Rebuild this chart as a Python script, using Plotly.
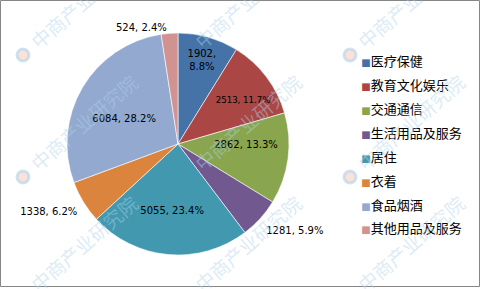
import plotly.graph_objects as go

categories = ["医疗保健", "教育文化娱乐", "交通通信", "生活用品及服务", "居住", "衣着", "食品烟酒", "其他用品及服务"]
values = [1902, 2513, 2862, 1281, 5055, 1338, 6084, 524]
colors = ["#4572A7", "#AA4643", "#89A54E", "#71588F", "#4198AF", "#DB843D", "#93A9CF", "#D19392"]
text_pos = ["inside", "inside", "inside", "outside", "inside", "outside", "inside", "outside"]
lbl = "%{value}, %{percent:.1%}"
pad = "&nbsp;<br>"
templates = ["%{value},<br>%{percent:.1%}", pad + lbl, lbl, pad + lbl,
             "<br><br>" + lbl, pad + lbl, pad + lbl, lbl]

W, H = 481, 289
font = "DejaVu Sans, Noto Sans CJK SC, sans-serif"

fig = go.Figure()
fig.add_trace(go.Pie(
    labels=categories, values=values, sort=False, direction="clockwise", rotation=0,
    marker=dict(colors=colors, line=dict(color="white", width=0.6)),
    texttemplate=templates, textposition=text_pos, insidetextorientation="horizontal",
    textfont=dict(family=font, size=10, color="black"),
    domain=dict(x=[67 / W, 289 / W], y=[34 / H, 256 / H]),
    automargin=False, showlegend=False, hoverinfo="label+value+percent",
))

for c, col in zip(categories, colors):
    name = ('<span style="font-family:DejaVu Sans;font-size:10px;color:%s">■</span>' % col) + c
    fig.add_trace(go.Scatter(x=[None], y=[None], mode="markers", name=name, legendgroup=c,
                             marker=dict(symbol="square", size=1, color="rgba(0,0,0,0)")))

# watermark "中商产业研究院" grid (logo circle + rotated text)
wm, logos = [], []
for lx in (23, 187, 350):
    for ly in (55, 177, 298):
        cx, cy = lx + 60, ly - 55
        wm.append(dict(text="中商产业研究院", x=cx / W, y=1 - cy / H, xref="paper", yref="paper",
                       xanchor="center", yanchor="middle", showarrow=False, textangle=-41,
                       font=dict(family="Noto Sans CJK SC", size=19, color="rgba(175,210,235,0.45)")))
        logos.append(dict(type="circle", xref="paper", yref="paper", layer="below",
                          x0=(lx - 6) / W, x1=(lx + 6) / W, y0=1 - (ly + 6) / H, y1=1 - (ly - 6) / H,
                          line=dict(color="rgba(175,210,235,0.6)", width=3),
                          fillcolor="rgba(245,190,170,0.45)"))

fig.update_layout(
    width=W, height=H, margin=dict(l=0, r=0, t=0, b=0, autoexpand=False),
    paper_bgcolor="white", plot_bgcolor="white",
    xaxis=dict(visible=False), yaxis=dict(visible=False),
    legend=dict(x=0.668, y=0.498, xanchor="left", yanchor="middle", tracegroupgap=4,
                font=dict(family="Noto Sans CJK SC, sans-serif", size=13, color="black"),
                itemwidth=30, bgcolor="rgba(0,0,0,0)"),
    annotations=wm,
    shapes=logos + [dict(type="rect", xref="paper", yref="paper", x0=0.5 / W, x1=479.5 / W,
                         y0=1 - 286.5 / H, y1=1 - 0.5 / H, line=dict(color="#868686", width=1))],
)
fig.write_html("out.html")
